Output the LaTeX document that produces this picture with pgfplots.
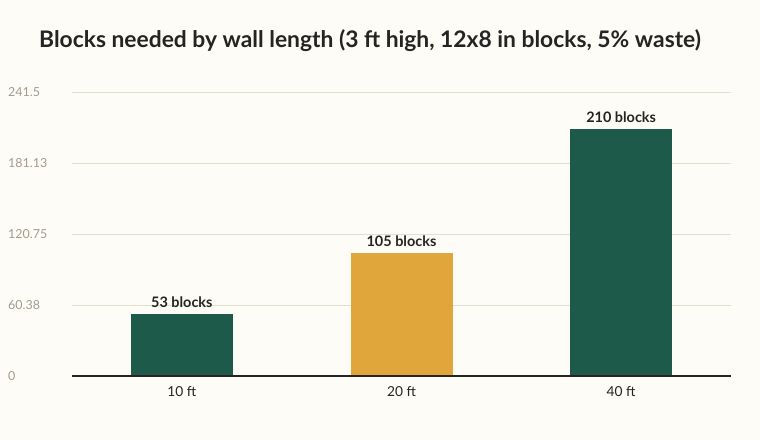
\documentclass[border=0pt]{standalone}
\usepackage{fontspec}
\setmainfont{Lato}
\usepackage{pgfplots}
\pgfplotsset{compat=1.18}
\definecolor{bg}{HTML}{FDFCF7}
\definecolor{grn}{HTML}{1D5A4A}
\definecolor{gold}{HTML}{E0A63C}
\definecolor{gridc}{HTML}{E4DFCD}
\definecolor{tickc}{HTML}{A39C8C}
\definecolor{txt}{HTML}{262422}
\begin{document}
\begin{tikzpicture}
\fill[bg] (0,0) rectangle (760bp,440bp);
\node[font=\fontsize{22.9}{27}\selectfont\bfseries, text=txt, anchor=base] at (370bp,392bp) {Blocks needed by wall length (3 ft high, 12x8 in blocks, 5\% waste)};
\begin{axis}[
  at={(72bp,64bp)}, anchor=south west,
  scale only axis, width=659bp, height=284bp,
  xmin=-0.5, xmax=2.5, ymin=0, ymax=241.5,
  axis x line*=bottom, axis y line*=left,
  x axis line style={draw=none}, y axis line style={draw=none},
  ytick={0,60.375,120.75,181.125,241.5},
  yticklabels={0,60.38,120.75,181.13,241.5},
  xtick={0,1,2}, xticklabels={10 ft,20 ft,40 ft},
  major tick length=0,
  ymajorgrids, grid style={gridc, line width=0.8pt},
  /pgf/number format/assume math mode=true,
  yticklabel style={anchor=west, inner sep=0pt, xshift=-64bp, text=tickc, font=\fontsize{12.5}{14}\selectfont},
  xticklabel style={text=txt, font=\fontsize{13.8}{16}\selectfont, yshift=-7bp},
  ybar, bar width=102bp, bar shift=0pt,
  nodes near coords, point meta=explicit symbolic,
  every node near coord/.append style={font=\fontsize{14.5}{16}\selectfont\bfseries, text=txt, yshift=2.5bp},
  clip=false,
]
\addplot[fill=grn, draw=none] coordinates {(0,53) [53 blocks]};
\addplot[fill=gold, draw=none] coordinates {(1,105) [105 blocks]};
\addplot[fill=grn, draw=none] coordinates {(2,210) [210 blocks]};
\draw[txt, line width=1.3pt] (axis cs:-0.5,0) -- (axis cs:2.5,0);
\end{axis}
\end{tikzpicture}
\end{document}
